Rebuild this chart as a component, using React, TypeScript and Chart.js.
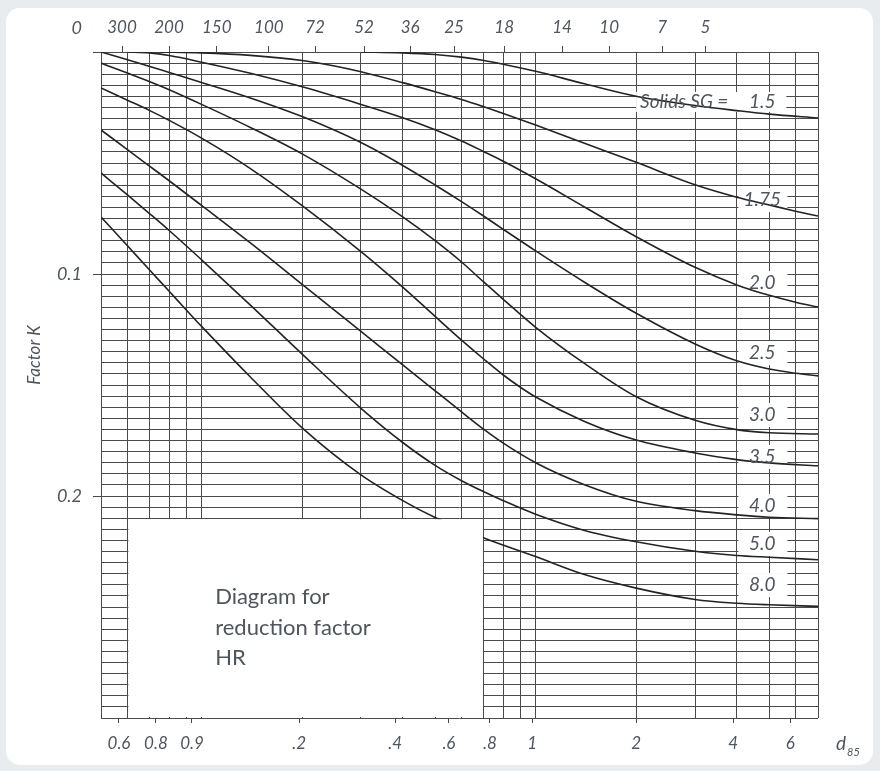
import React, { useEffect, useRef } from "react";
import { Chart, registerables } from "chart.js";
Chart.register(...registerables);

// ---- Data ----
const SG_LABELS = ["1.5", "1.75", "2.0", "2.5", "3.0", "3.5", "4.0", "5.0", "8.0"];

const D_15 = [0.3, 0.4, 0.5, 0.6, 0.7, 0.8, 1, 1.4, 2, 3, 4, 5, 7];
const K_15 = [0, 0.0004, 0.0011, 0.0023, 0.0038, 0.0055, 0.0087, 0.0143, 0.0199, 0.0241, 0.0264, 0.028, 0.0297];

const D_175 = [0.075, 0.1, 0.14, 0.2, 0.25, 0.3, 0.4, 0.5, 0.6, 0.7, 0.8, 1, 1.4, 2, 3, 4, 5, 6, 7];
const K_175 = [0, 0.0004, 0.0015, 0.0038, 0.0063, 0.0089, 0.0138, 0.0179, 0.0214, 0.0247, 0.0277, 0.0329, 0.0411, 0.0497, 0.0598, 0.0654, 0.0689, 0.0717, 0.0739];

const D_20 = [0.06, 0.07, 0.08, 0.1, 0.14, 0.2, 0.3, 0.4, 0.5, 0.6, 0.7, 0.8, 1, 1.4, 2, 3, 4, 5, 6, 7];
const K_20 = [0, 0.0004, 0.0016, 0.0046, 0.0096, 0.0157, 0.0236, 0.0296, 0.035, 0.0401, 0.0449, 0.0492, 0.0571, 0.0698, 0.0832, 0.097, 0.1049, 0.1096, 0.1127, 0.1149];

const D_25 = [0.05, 0.06, 0.07, 0.08, 0.1, 0.14, 0.2, 0.3, 0.4, 0.5, 0.6, 0.7, 0.8, 1, 1.4, 2, 3, 4, 5, 6, 7];
const K_25 = [0, 0.0035, 0.0065, 0.0092, 0.0137, 0.0207, 0.0291, 0.0408, 0.0511, 0.0599, 0.0674, 0.074, 0.0799, 0.0896, 0.1037, 0.1177, 0.1315, 0.1391, 0.1428, 0.1447, 0.1459];

const D_30 = [0.05, 0.06, 0.07, 0.08, 0.1, 0.14, 0.2, 0.3, 0.4, 0.5, 0.6, 0.7, 0.8, 1, 1.4, 2, 3, 4, 5, 7];
const K_30 = [0.005, 0.0095, 0.0134, 0.017, 0.0236, 0.034, 0.0459, 0.0618, 0.0743, 0.085, 0.0946, 0.1037, 0.1114, 0.124, 0.1403, 0.1553, 0.1659, 0.1701, 0.1715, 0.1721];

const D_35 = [0.05, 0.06, 0.07, 0.08, 0.1, 0.14, 0.2, 0.3, 0.4, 0.5, 0.6, 0.7, 0.8, 0.9, 1, 1.4, 2, 3, 4, 5, 7];
const K_35 = [0.0162, 0.0217, 0.0264, 0.0308, 0.0388, 0.0525, 0.0692, 0.0899, 0.1059, 0.1191, 0.1298, 0.1384, 0.1455, 0.151, 0.1554, 0.1664, 0.1748, 0.1806, 0.1836, 0.1851, 0.1864];

const D_40 = [0.05, 0.06, 0.07, 0.08, 0.1, 0.14, 0.2, 0.3, 0.4, 0.5, 0.6, 0.7, 0.8, 1, 1.4, 2, 3, 4, 5, 7];
const K_40 = [0.0351, 0.044, 0.0515, 0.058, 0.0691, 0.086, 0.1047, 0.1259, 0.1409, 0.1526, 0.1621, 0.17, 0.1762, 0.185, 0.1949, 0.2024, 0.2066, 0.2085, 0.2096, 0.2102];

const D_50 = [0.05, 0.06, 0.07, 0.08, 0.1, 0.14, 0.2, 0.3, 0.4, 0.5, 0.6, 0.7, 0.8, 1, 1.4, 2, 3, 4, 5, 7];
const K_50 = [0.0545, 0.0644, 0.0729, 0.0804, 0.0936, 0.114, 0.1361, 0.1605, 0.1759, 0.1862, 0.1931, 0.1981, 0.2021, 0.2082, 0.2155, 0.2206, 0.2249, 0.2268, 0.2276, 0.2287];

const D_80 = [0.05, 0.06, 0.07, 0.08, 0.09, 0.1, 0.14, 0.2, 0.3, 0.4, 0.5, 0.7, 1, 1.4, 2, 3, 4, 5, 7];
const K_80 = [0.0743, 0.0873, 0.0983, 0.1078, 0.1162, 0.1236, 0.1464, 0.1693, 0.1905, 0.2021, 0.2097, 0.2189, 0.2273, 0.2354, 0.2415, 0.2466, 0.2483, 0.249, 0.2497];

const CURVE_D = [D_15, D_175, D_20, D_25, D_30, D_35, D_40, D_50, D_80];
const CURVE_K = [K_15, K_175, K_20, K_25, K_30, K_35, K_40, K_50, K_80];

// label anchor of each curve (K at the label), shared d position
const LABEL_K = [0.0225, 0.0667, 0.1041, 0.1356, 0.1635, 0.1824, 0.2045, 0.2216, 0.2401];
const LABEL_D = 4.77;

// axes
const D_MIN = 0.05;
const D_MAX = 7;
const K_MIN = 0;
const K_MAX = 0.3;
const K_STEP = 0.005;
const GRID_D = [0.05, 0.06, 0.07, 0.08, 0.09, 0.1, 0.2, 0.3, 0.4, 0.5, 0.6, 0.7, 0.8, 0.9, 1, 2, 3, 4, 5, 6, 7];

const BOTTOM_TICK_D = [0.0566, 0.073, 0.0936, 0.196, 0.38, 0.55, 0.73, 0.976, 2.0, 3.9, 5.78];
const BOTTOM_TICK_LABELS = ["0.6", "0.8", "0.9", ".2", ".4", ".6", ".8", "1", "2", "4", "6"];

const TOP_TICK_D = [0.0578, 0.0799, 0.111, 0.159, 0.2186, 0.3065, 0.421, 0.57, 0.805, 1.2, 1.66, 2.39, 3.22];
const TOP_TICK_LABELS = ["300", "200", "150", "100", "72", "52", "36", "25", "18", "14", "10", "7", "5"];

const Y_TICKS = [0, 0.1, 0.2];
const Y_TICK_LABELS = ["0", "0.1", "0.2"];

// blank panel (d range, K range)
const PANEL_D = [0.06, 0.7];
const PANEL_K = [0.21, 0.3];
const PANEL_TEXT = ["Diagram for", "reduction factor", "HR"];
const PANEL_TEXT_D = 0.1098;
const PANEL_TEXT_K = [0.2455, 0.2595, 0.273];

const Y_TITLE = "Factor K";
const Y_TITLE_K = 0.1365;
const X_TITLE = "d";
const X_TITLE_SUB = "85";
const SG_PREFIX = "Solids SG =";

const FONT = "Lato, 'Open Sans', sans-serif";
const TEXT = "#4f555d";
const GRID = "#4a4a4a";
const CURVE = "#232323";

const overlayPlugin = {
  id: "overlay",
  beforeDatasetsDraw(chart: any) {
    const { ctx } = chart;
    const xs = chart.scales.xg;
    const ys = chart.scales.yg;
    ctx.save();
    ctx.fillStyle = "#ffffff";
    const cx = xs.getPixelForValue(LABEL_D);
    LABEL_K.forEach((k, i) => {
      const cy = ys.getPixelForValue(k);
      if (i === 0) {
        ctx.font = `italic 19px ${FONT}`;
        const w = ctx.measureText(SG_PREFIX).width;
        const left = cx - 34 - w - 4;
        ctx.fillRect(left, cy - 10, cx + 24 - left, 20);
      } else {
        ctx.fillRect(cx - 24, cy - 12, 49, 24);
      }
    });
    ctx.restore();
  },
  afterDatasetsDraw(chart: any) {
    const { ctx, chartArea } = chart;
    const xs = chart.scales.xg;
    const ys = chart.scales.yg;
    ctx.save();
    // blank panel
    const x0 = xs.getPixelForValue(PANEL_D[0]) + 1;
    const x1 = xs.getPixelForValue(PANEL_D[1]) - 1;
    const y0 = ys.getPixelForValue(PANEL_K[0]) + 1;
    const y1 = ys.getPixelForValue(PANEL_K[1]) - 1;
    ctx.fillStyle = "#ffffff";
    ctx.fillRect(x0, y0, x1 - x0, y1 - y0);

    ctx.fillStyle = TEXT;
    ctx.textBaseline = "middle";
    ctx.font = `22px ${FONT}`;
    ctx.textAlign = "left";
    PANEL_TEXT.forEach((t, i) => {
      ctx.fillText(t, xs.getPixelForValue(PANEL_TEXT_D), ys.getPixelForValue(PANEL_TEXT_K[i]));
    });

    // curve labels
    const cx = xs.getPixelForValue(LABEL_D);
    ctx.font = `italic 19px ${FONT}`;
    LABEL_K.forEach((k, i) => {
      const cy = ys.getPixelForValue(k);
      ctx.textAlign = "center";
      ctx.fillText(SG_LABELS[i], cx, cy);
      if (i === 0) {
        ctx.textAlign = "right";
        ctx.fillText(SG_PREFIX, cx - 34, cy);
      }
    });

    // y title
    ctx.save();
    ctx.font = `italic 17px ${FONT}`;
    ctx.textAlign = "center";
    ctx.translate(chartArea.left - 66, ys.getPixelForValue(Y_TITLE_K));
    ctx.rotate(-Math.PI / 2);
    ctx.fillText(Y_TITLE, 0, 0);
    ctx.restore();

    // x title d85
    const ty = chartArea.bottom + 26;
    ctx.textAlign = "left";
    ctx.font = `italic 19px ${FONT}`;
    const tx = chartArea.right + 18;
    ctx.fillText(X_TITLE, tx, ty);
    const w = ctx.measureText(X_TITLE).width;
    ctx.font = `italic 11px ${FONT}`;
    ctx.fillText(X_TITLE_SUB, tx + w + 1, ty + 8);
    ctx.restore();
  },
};

export default function App() {
  const ref = useRef<HTMLCanvasElement>(null);
  useEffect(() => {
    document.body.style.margin = "0";
    document.body.style.background = "#e9ecef";
    const canvas = ref.current!;
    const datasets = CURVE_D.map((d, i) => ({
      label: SG_LABELS[i],
      data: d.map((x, j) => ({ x, y: CURVE_K[i][j] })),
      xAxisID: "xg",
      yAxisID: "yg",
      borderColor: CURVE,
      borderWidth: 1.6,
      pointRadius: 0,
      fill: false,
      cubicInterpolationMode: "monotone" as const,
    }));
    const yGridTicks: { value: number }[] = [];
    for (let i = 0; i <= Math.round((K_MAX - K_MIN) / K_STEP); i++) {
      yGridTicks.push({ value: +(K_MIN + i * K_STEP).toFixed(4) });
    }
    const tickFont = { family: FONT, size: 17, style: "italic" as const };
    const chart = new Chart(canvas, {
      type: "line",
      data: { datasets },
      options: {
        animation: false,
        responsive: false,
        devicePixelRatio: 1,
        layout: { padding: { left: 0, top: 0, right: 62, bottom: 0 } },
        plugins: { legend: { display: false }, tooltip: { enabled: false } },
        scales: {
          xg: {
            type: "logarithmic",
            position: "bottom",
            min: D_MIN,
            max: D_MAX,
            bounds: "data",
            afterBuildTicks: (s: any) => {
              s.ticks = GRID_D.map((v) => ({ value: v }));
            },
            ticks: { display: false },
            grid: { color: GRID, lineWidth: 1, drawTicks: false },
            border: { display: false },
            afterFit: (s: any) => {
              s.height = 0;
            },
          },
          x: {
            type: "logarithmic",
            position: "bottom",
            min: D_MIN,
            max: D_MAX,
            bounds: "data",
            afterBuildTicks: (s: any) => {
              s.ticks = BOTTOM_TICK_D.map((v) => ({ value: v }));
            },
            ticks: {
              callback: (_v: any, i: number) => BOTTOM_TICK_LABELS[i],
              font: tickFont,
              color: TEXT,
              padding: 10,
              maxRotation: 0,
              autoSkip: false,
            },
            grid: { drawOnChartArea: false, tickLength: 5, color: GRID },
            border: { display: false },
            afterFit: (s: any) => {
              s.height = 53;
            },
          },
          x2: {
            type: "logarithmic",
            position: "top",
            min: D_MIN,
            max: D_MAX,
            bounds: "data",
            afterBuildTicks: (s: any) => {
              s.ticks = TOP_TICK_D.map((v) => ({ value: v }));
            },
            ticks: {
              callback: (_v: any, i: number) => TOP_TICK_LABELS[i],
              font: tickFont,
              color: TEXT,
              padding: 8,
              maxRotation: 0,
              autoSkip: false,
            },
            grid: { drawOnChartArea: false, tickLength: 6, color: GRID },
            border: { display: false },
            afterFit: (s: any) => {
              s.height = 52;
            },
          },
          yg: {
            type: "linear",
            position: "left",
            reverse: true,
            min: K_MIN,
            max: K_MAX,
            afterBuildTicks: (s: any) => {
              s.ticks = yGridTicks;
            },
            ticks: { display: false },
            grid: { color: GRID, lineWidth: 1, drawTicks: false },
            border: { display: false },
            afterFit: (s: any) => {
              s.width = 0;
            },
          },
          y2: {
            type: "linear",
            position: "left",
            reverse: true,
            min: K_MIN,
            max: K_MAX,
            afterBuildTicks: (s: any) => {
              s.ticks = Y_TICKS.map((v) => ({ value: v }));
            },
            ticks: {
              callback: (_v: any, i: number) => (i === 0 ? [Y_TICK_LABELS[i], "", ""] : Y_TICK_LABELS[i]),
              font: { ...tickFont, size: 18, lineHeight: 1.35 },
              color: TEXT,
              padding: 11,
              autoSkip: false,
            },
            grid: { drawOnChartArea: false, tickLength: 8, color: GRID },
            border: { display: false },
            afterFit: (s: any) => {
              s.width = 101;
            },
          },
        },
      } as any,
      plugins: [overlayPlugin],
    });
    return () => chart.destroy();
  }, []);

  return (
    <div style={{ position: "relative", width: 880, height: 771, background: "#e9ecef", overflow: "hidden" }}>
      <div
        style={{
          position: "absolute",
          left: 6,
          top: 8,
          width: 867,
          height: 757,
          background: "#ffffff",
          borderRadius: 14,
        }}
      />
      <canvas ref={ref} width={880} height={771} style={{ position: "absolute", left: 0, top: 0 }} />
    </div>
  );
}
